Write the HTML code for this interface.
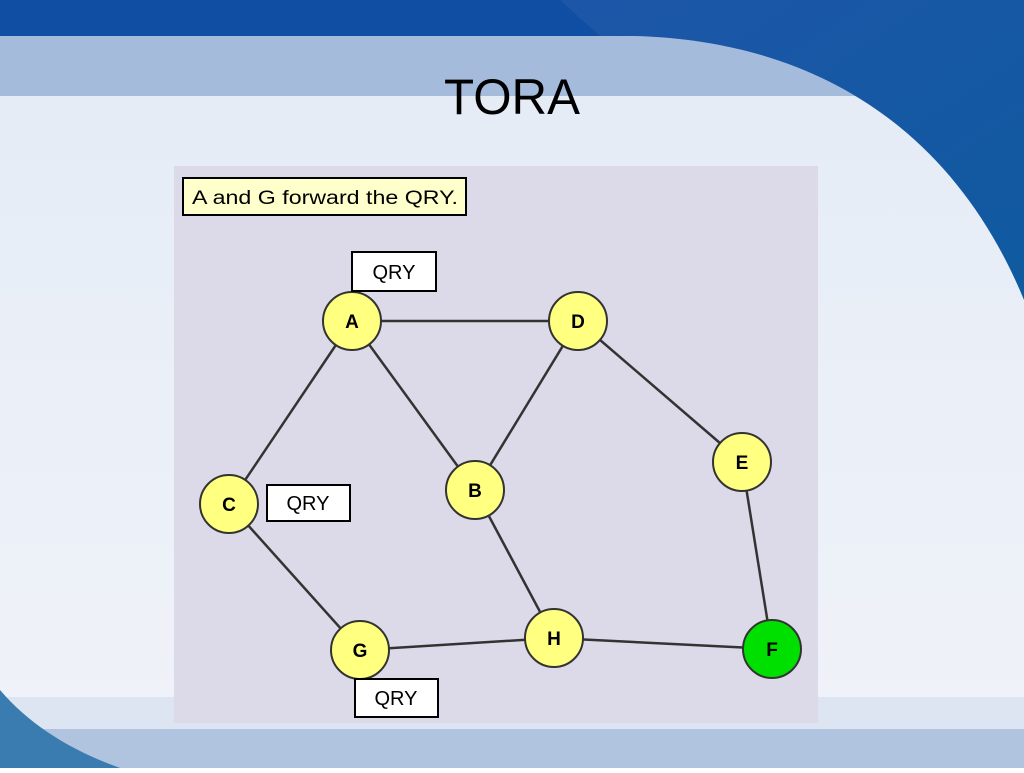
<!DOCTYPE html>
<html><head><meta charset="utf-8"><style>
body{margin:0;width:1024px;height:768px;overflow:hidden;font-family:"Liberation Sans",sans-serif}
</style></head><body>
<svg width="1024" height="768" xmlns="http://www.w3.org/2000/svg">
<defs>
<linearGradient id="bg" x1="0" y1="0" x2="0" y2="1">
<stop offset="0" stop-color="#e4ebf6"/><stop offset="1" stop-color="#f0f3f9"/>
</linearGradient>
<linearGradient id="sw" x1="0" y1="0" x2="1" y2="1">
<stop offset="0" stop-color="#1d56a8"/><stop offset="1" stop-color="#0f5aa0"/>
</linearGradient>
</defs>
<rect width="1024" height="768" fill="url(#bg)"/>
<rect y="0" width="1024" height="36" fill="#0f4ea3"/>
<rect y="36" width="1024" height="60" fill="#a5bbdc"/>
<path d="M600,36 C800,30 950,120 1024,300 L1024,0 L560,0 Z" fill="url(#sw)"/>
<rect y="697" width="1024" height="32" fill="#dce5f1"/>
<rect y="729" width="1024" height="39" fill="#b0c3df"/>
<path d="M0,690 C30,725 70,750 120,768 L0,768 Z" fill="#3a7bb0"/>
<text x="512" y="114" text-anchor="middle" font-family="Liberation Sans Narrow, Liberation Sans, sans-serif" font-size="50" fill="#000" textLength="136" lengthAdjust="spacingAndGlyphs">TORA</text>
<rect x="174" y="166" width="644" height="557" fill="#dcdae8"/>
<rect x="183" y="178" width="283" height="37" fill="#ffffcc" stroke="#000" stroke-width="2"/>
<text x="192" y="204" font-size="19" fill="#000" textLength="266" lengthAdjust="spacingAndGlyphs">A and G forward the QRY.</text>
<g stroke="#333" stroke-width="2.5">
<line x1="352" y1="321" x2="578" y2="321"/>
<line x1="352" y1="321" x2="229" y2="504"/>
<line x1="352" y1="321" x2="475" y2="490"/>
<line x1="578" y1="321" x2="475" y2="490"/>
<line x1="578" y1="321" x2="742" y2="462"/>
<line x1="742" y1="462" x2="772" y2="649"/>
<line x1="229" y1="504" x2="360" y2="650"/>
<line x1="475" y1="490" x2="554" y2="638"/>
<line x1="360" y1="650" x2="554" y2="638"/>
<line x1="554" y1="638" x2="772" y2="649"/>
</g>
<g stroke="#333" stroke-width="2">
<circle cx="352" cy="321" r="29" fill="#ffff80"/>
<circle cx="578" cy="321" r="29" fill="#ffff80"/>
<circle cx="229" cy="504" r="29" fill="#ffff80"/>
<circle cx="475" cy="490" r="29" fill="#ffff80"/>
<circle cx="742" cy="462" r="29" fill="#ffff80"/>
<circle cx="360" cy="650" r="29" fill="#ffff80"/>
<circle cx="554" cy="638" r="29" fill="#ffff80"/>
<circle cx="772" cy="649" r="29" fill="#00e000"/>
</g>
<g font-size="19" font-weight="bold" text-anchor="middle" fill="#000">
<text x="352" y="328">A</text><text x="578" y="328">D</text><text x="229" y="511">C</text>
<text x="475" y="497">B</text><text x="742" y="469">E</text><text x="360" y="657">G</text>
<text x="554" y="645">H</text><text x="772" y="656">F</text>
</g>
<g fill="#fff" stroke="#000" stroke-width="2">
<rect x="352" y="252" width="84" height="39"/>
<rect x="267" y="485" width="83" height="36"/>
<rect x="355" y="679" width="83" height="38"/>
</g>
<g font-size="20" text-anchor="middle" fill="#000">
<text x="394" y="279">QRY</text><text x="308" y="510">QRY</text><text x="396" y="705">QRY</text>
</g>
</svg>
</body></html>
